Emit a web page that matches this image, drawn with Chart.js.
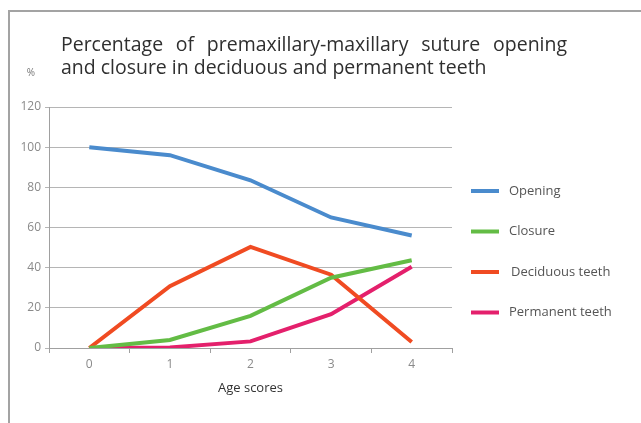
<!DOCTYPE html>
<html>
<head>
<meta charset="utf-8">
<script src="https://cdn.jsdelivr.net/npm/chart.js@4.4.0/dist/chart.umd.min.js"></script>
<style>
  html, body { margin: 0; padding: 0; background: #fff; }
  #wrap { width: 641px; height: 423px; position: relative; }
</style>
</head>
<body>
<div id="wrap"><canvas id="sutureChart"></canvas></div>
<script>
// age score categories and percentages
const ageScores = ['0', '1', '2', '3', '4'];
const openingValues = [100, 96, 83.5, 65, 56];
const closureValues = [0, 4, 16, 35, 43.7];
const deciduousValues = [0, 30.8, 50.3, 36.5, 3];
const permanentValues = [0, 0.3, 3.3, 16.8, 40.5];
const seriesNames = ['Opening', 'Closure', 'Deciduous teeth', 'Permanent teeth'];
const seriesColors = ['#4a8bcd', '#63bc45', '#f04b22', '#e4206c'];

const titleLines = [
    'Percentage of premaxillary-maxillary suture opening',
    'and closure in deciduous and permanent teeth'
];
const FONT = '"Open Sans", "DejaVu Sans", sans-serif';

// frame, title, unit label and legend drawn on top of the chart
const decorPlugin = {
    id: 'decor',
    afterDraw(chart) {
        const ctx = chart.ctx;
        ctx.save();

        // frame lines (top and left)
        ctx.strokeStyle = '#a3a3a3';
        ctx.lineWidth = 2;
        ctx.beginPath();
        ctx.moveTo(9, 423);
        ctx.lineTo(9, 11);
        ctx.lineTo(641, 11);
        ctx.stroke();

        // title: second line sets the font size, first line is justified
        let size = 18;
        ctx.font = size + 'px ' + FONT;
        const w2 = ctx.measureText(titleLines[1]).width;
        size = size * 426 / w2;
        ctx.font = size + 'px ' + FONT;
        ctx.fillStyle = '#2f2f2f';
        ctx.textBaseline = 'middle';
        ctx.textAlign = 'left';
        const words = titleLines[0].split(' ');
        const wordsWidth = words.reduce((s, w) => s + ctx.measureText(w).width, 0);
        const gap = (506 - wordsWidth) / (words.length - 1);
        let x = 61;
        words.forEach(w => {
            ctx.fillText(w, x, 45);
            x += ctx.measureText(w).width + gap;
        });
        ctx.fillText(titleLines[1], 61, 68);

        // unit label
        ctx.font = '10px ' + FONT;
        ctx.fillStyle = '#777';
        ctx.textAlign = 'center';
        ctx.fillText('%', 31, 73);

        // legend
        ctx.font = '13px ' + FONT;
        ctx.textAlign = 'left';
        chart.data.datasets.forEach((ds, i) => {
            const y = 191 + i * 40.5;
            ctx.strokeStyle = ds.borderColor;
            ctx.lineWidth = 4;
            ctx.beginPath();
            ctx.moveTo(471, y);
            ctx.lineTo(499, y);
            ctx.stroke();
            ctx.fillStyle = '#555';
            ctx.fillText(ds.label, i === 2 ? 511 : 509, y);
        });
        ctx.restore();
    }
};

const allValues = [openingValues, closureValues, deciduousValues, permanentValues];

const sutureCtx = document.getElementById('sutureChart').getContext('2d');
const sutureChart = new Chart(sutureCtx, {
    type: 'line',
    data: {
        labels: ageScores,
        datasets: allValues.map((vals, i) => ({
            label: seriesNames[i],
            data: vals,
            borderColor: seriesColors[i],
            backgroundColor: seriesColors[i],
            borderWidth: 4,
            pointRadius: 0,
            tension: 0,
            fill: false
        }))
    },
    options: {
        responsive: true,
        maintainAspectRatio: false,
        animation: false,
        layout: {
            padding: { left: 0, right: 189, top: 107, bottom: 0 }
        },
        scales: {
            x: {
                offset: true,
                afterFit: function (scale) { scale.height = 75; },
                grid: {
                    offset: true,
                    drawOnChartArea: false,
                    drawTicks: true,
                    tickLength: 5,
                    color: '#a0a0a0'
                },
                border: { color: '#a0a0a0', width: 1 },
                ticks: {
                    color: '#8a8a8a',
                    font: { family: FONT, size: 12 },
                    padding: 4
                },
                title: {
                    display: true,
                    text: 'Age scores',
                    color: '#333',
                    font: { family: FONT, size: 13 },
                    padding: { top: 0, bottom: 27 }
                }
            },
            y: {
                min: 0,
                max: 120,
                afterFit: function (scale) { scale.width = 49; },
                grid: {
                    color: '#b5b5b5',
                    tickLength: 4
                },
                border: { color: '#a0a0a0', width: 1 },
                ticks: {
                    stepSize: 20,
                    color: '#8a8a8a',
                    font: { family: FONT, size: 12 },
                    padding: 4
                }
            }
        },
        plugins: {
            legend: { display: false },
            tooltip: { enabled: false }
        }
    },
    plugins: [decorPlugin]
});
</script>
</body>
</html>
